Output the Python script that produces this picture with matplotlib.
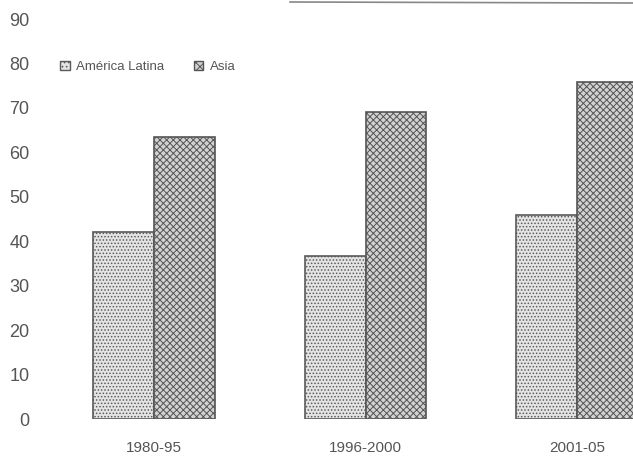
import matplotlib
matplotlib.use("Agg")
import matplotlib.pyplot as plt
from matplotlib.patches import Patch
from matplotlib.lines import Line2D
import numpy as np

categories = ["1980-95", "1996-2000", "2001-05"]
america_latina = [42, 36.7, 46]
asia = [63.5, 69, 75.8]
series_names = ["América Latina", "Asia"]
yticks = [0, 10, 20, 30, 40, 50, 60, 70, 80, 90]

plt.rcParams['font.family'] = ['Liberation Sans', 'DejaVu Sans']
plt.rcParams['hatch.linewidth'] = 0.7

fig = plt.figure(figsize=(6.33, 4.57), dpi=100)
W, H = 633, 457
left_px, right_px = 35, 633
bot_px, top_px = 419, 19
ax = fig.add_axes([left_px / W, (H - bot_px) / H, (right_px - left_px) / W, (bot_px - top_px) / H])

x = np.arange(len(categories))
w = 0.288
ax.bar(x - w / 2, america_latina, width=w, facecolor='#e4e4e4', edgecolor='#5a5a5a',
       hatch='.....', linewidth=1.2, label=series_names[0])
ax.bar(x + w / 2, asia, width=w, facecolor='#d2d2d2', edgecolor='#555555',
       hatch='xxxxx', linewidth=1.2, label=series_names[1])

ax.set_xlim((left_px - 154) / 211.5, 2 + (right_px - 577) / 211.5)
ax.set_ylim(0, 90)
ax.set_yticks(yticks)
ax.set_yticklabels([str(t) for t in yticks], fontsize=13, color='#555555')
ax.set_xticks(x)
ax.set_xticklabels(categories, fontsize=11, color='#555555')
ax.tick_params(axis='y', length=0, pad=4)
ax.tick_params(axis='x', length=0, pad=16)
for s in ax.spines.values():
    s.set_visible(False)

handles = [Patch(facecolor='#e4e4e4', edgecolor='#5a5a5a', hatch='....'),
           Patch(facecolor='#d2d2d2', edgecolor='#555555', hatch='xxxx')]
leg = fig.legend(handles, series_names, ncol=2, frameon=False, fontsize=9.5,
                 loc='center left', bbox_to_anchor=(48 / W, (H - 67) / H),
                 handlelength=0.75, handleheight=0.75, handletextpad=0.5,
                 columnspacing=2.2, labelcolor='#555555')

fig.add_artist(Line2D([290 / W, 1.0], [(H - 2) / H, (H - 3) / H], color='#888888', lw=1.2,
                      transform=fig.transFigure))

fig.savefig("out.png", dpi=100)
